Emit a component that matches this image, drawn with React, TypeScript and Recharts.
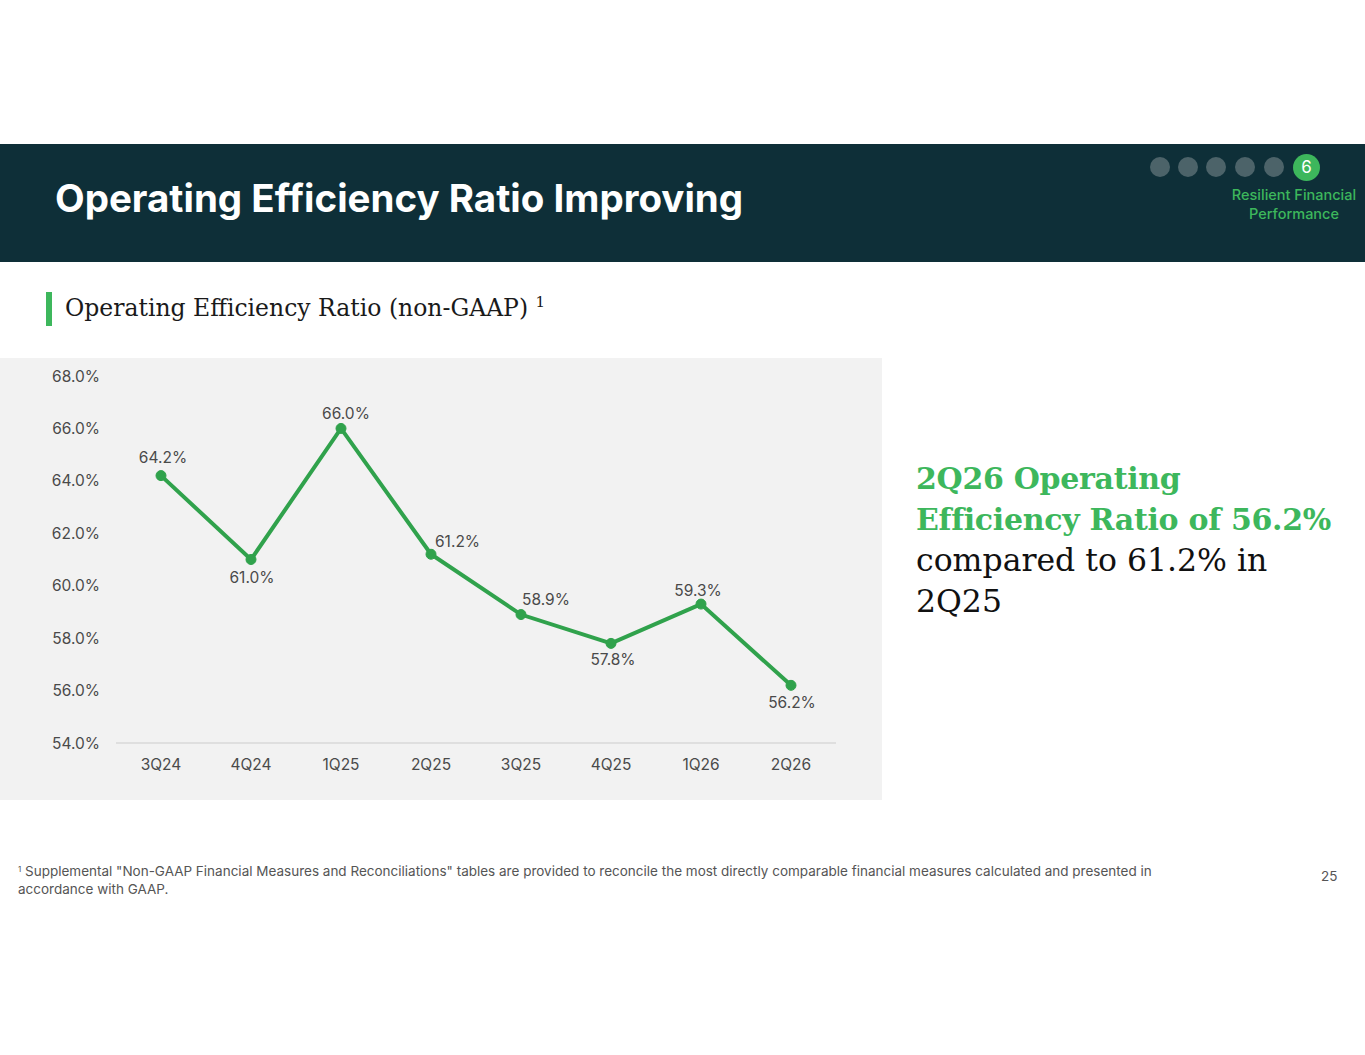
import React from 'react';
import { LineChart, Line, XAxis, YAxis, LabelList } from 'recharts';

const quarters = ['3Q24', '4Q24', '1Q25', '2Q25', '3Q25', '4Q25', '1Q26', '2Q26'];
const efficiencyRatio = [64.2, 61.0, 66.0, 61.2, 58.9, 57.8, 59.3, 56.2];
const yTicks = [54, 56, 58, 60, 62, 64, 66, 68];

const chartData = quarters.map((q, i) => ({ quarter: q, ratio: efficiencyRatio[i] }));

// label placement per point: [anchor, dx, dy]
const labelPlacement: [string, number, number][] = [
  ['middle', 2, -18],
  ['middle', 1, 18],
  ['middle', 5, -15],
  ['start', 4, -13],
  ['start', 1, -15],
  ['middle', 2, 16],
  ['middle', -3, -14],
  ['middle', 1, 17],
];

const GREEN = '#30a24c';
const HEAD_GREEN = '#3db75c';
const NAVY = '#0e2f38';
const SANS = 'Inter, "Open Sans", sans-serif';
const SERIF = '"DejaVu Serif", serif';

function ValueLabel(props: any) {
  const { x, y, value, index } = props;
  const [anchor, dx, dy] = labelPlacement[index];
  return (
    <text
      x={x + dx}
      y={y + dy}
      textAnchor={anchor}
      dominantBaseline="central"
      fill="#4a4a4a"
      fontSize={15.5}
      fontFamily={SANS}
    >
      {value.toFixed(1)}%
    </text>
  );
}

const footStyle: React.CSSProperties = {
  position: 'absolute',
  fontFamily: SANS,
  fontSize: 13.5,
  lineHeight: '18px',
  color: '#555',
  whiteSpace: 'nowrap',
};

export default function App() {
  return (
    <div style={{ position: 'absolute', left: 0, top: 0, width: 1365, height: 1055, background: '#fff', overflow: 'hidden' }}>
      {/* header band */}
      <div style={{ position: 'absolute', left: 0, top: 144, width: 1365, height: 118, background: NAVY }}>
        <div
          style={{
            position: 'absolute',
            left: 55,
            top: 31,
            color: '#fff',
            fontFamily: SANS,
            fontWeight: 700,
            fontSize: 38.5,
            whiteSpace: 'nowrap',
          }}
        >
          Operating Efficiency Ratio Improving
        </div>
        {[1160, 1188, 1216, 1245, 1274].map((cx) => (
          <div
            key={cx}
            style={{
              position: 'absolute',
              left: cx - 10,
              top: 13,
              width: 20,
              height: 20,
              borderRadius: 10,
              background: '#4c6369',
            }}
          />
        ))}
        <div
          style={{
            position: 'absolute',
            left: 1293,
            top: 10,
            width: 27,
            height: 27,
            borderRadius: 14,
            background: HEAD_GREEN,
            color: '#fff',
            fontFamily: SANS,
            fontSize: 17,
            lineHeight: '27px',
            textAlign: 'center',
          }}
        >
          6
        </div>
        <div
          style={{
            position: 'absolute',
            left: 1214,
            top: 41,
            width: 160,
            textAlign: 'center',
            color: HEAD_GREEN,
            fontFamily: SANS,
            fontWeight: 500,
            fontSize: 14.5,
            lineHeight: '19px',
            whiteSpace: 'nowrap',
          }}
        >
          Resilient Financial
          <br />
          Performance
        </div>
      </div>

      {/* section title */}
      <div style={{ position: 'absolute', left: 46, top: 292, width: 6, height: 34, background: HEAD_GREEN }} />
      <div
        style={{
          position: 'absolute',
          left: 65,
          top: 294,
          fontFamily: SERIF,
          fontSize: 23.5,
          color: '#1a1a1a',
          whiteSpace: 'nowrap',
        }}
      >
        Operating Efficiency Ratio (non-GAAP){' '}
        <span style={{ fontSize: 15, verticalAlign: 'super', lineHeight: 0 }}>1</span>
      </div>

      {/* chart panel */}
      <div style={{ position: 'absolute', left: 0, top: 358, width: 882, height: 442, background: '#f2f2f2' }}>
        <LineChart
          width={882}
          height={442}
          data={chartData}
          margin={{ top: 18, right: 46, bottom: 0, left: 0 }}
        >
          <XAxis
            dataKey="quarter"
            height={57}
            padding={{ left: 45, right: 45 }}
            axisLine={{ stroke: '#d9d9d9', strokeWidth: 1.5 }}
            tickLine={false}
            tickSize={0}
            tickMargin={16}
            tick={{ fill: '#4a4a4a', fontSize: 15.5, fontFamily: SANS }}
          />
          <YAxis
            domain={[54, 68]}
            ticks={yTicks}
            width={116}
            axisLine={false}
            tickLine={false}
            tickSize={0}
            tickMargin={16}
            tickFormatter={(v: number) => `${v.toFixed(1)}%`}
            tick={{ fill: '#4a4a4a', fontSize: 15.5, fontFamily: SANS }}
          />
          <Line
            type="linear"
            dataKey="ratio"
            stroke={GREEN}
            strokeWidth={4}
            dot={{ r: 5, fill: GREEN, stroke: GREEN, strokeWidth: 1 }}
            isAnimationActive={false}
          >
            <LabelList dataKey="ratio" content={<ValueLabel />} />
          </Line>
        </LineChart>
      </div>

      {/* callout */}
      <div
        style={{
          position: 'absolute',
          left: 916,
          top: 458,
          width: 440,
          fontFamily: SERIF,
          fontSize: 31.5,
          lineHeight: '41px',
          color: '#111',
          whiteSpace: 'nowrap',
        }}
      >
        <span style={{ color: HEAD_GREEN, fontWeight: 700, fontSize: 30, letterSpacing: -0.3 }}>
          2Q26 Operating
          <br />
          Efficiency Ratio of 56.2%
        </span>
        <br />
        compared to 61.2% in
        <br />
        2Q25
      </div>

      {/* footnote */}
      <div style={{ ...footStyle, left: 18, top: 860, fontSize: 8 }}>1</div>
      <div style={{ ...footStyle, left: 25, top: 862 }}>
        Supplemental "Non-GAAP Financial Measures and Reconciliations" tables are provided to reconcile the most directly
        comparable financial measures calculated and presented in
      </div>
      <div style={{ ...footStyle, left: 18, top: 880 }}>accordance with GAAP.</div>
      <div style={{ ...footStyle, left: 1321, top: 867 }}>25</div>
    </div>
  );
}
